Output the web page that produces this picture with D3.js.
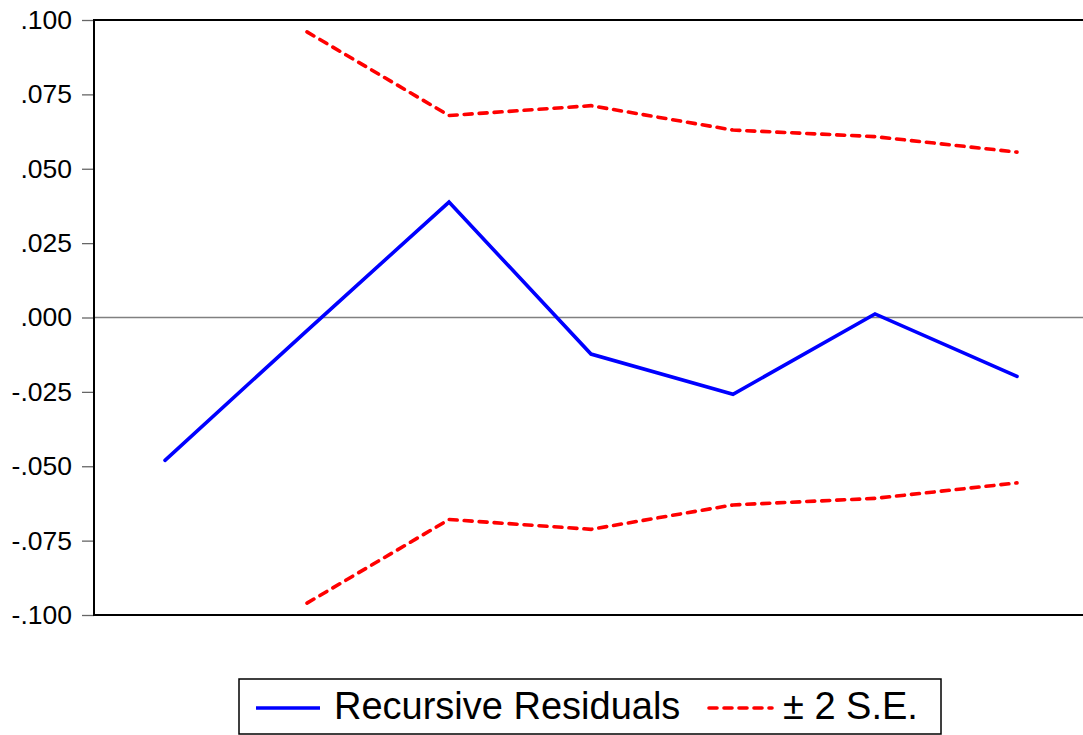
<!DOCTYPE html>
<html>
<head>
<meta charset="utf-8">
<script src="https://cdn.jsdelivr.net/npm/d3@7"></script>
<style>
  html, body { margin: 0; padding: 0; background: #fff; }
  svg { display: block; font-family: "Liberation Sans", Arial, sans-serif; }
</style>
</head>
<body>
<svg id="chart" width="1083" height="735"></svg>
<script>
// Observations (recursive estimation steps)
const observations = ["1", "2", "3", "4", "5", "6", "7"];
// Recursive residuals for each observation
const residuals = [-0.0480, -0.0044, 0.0388, -0.0123, -0.0258, 0.0012, -0.0198];
// Two standard-error band (symmetric around zero); first step has no band
const twoSE = [null, 0.0960, 0.0679, 0.0712, 0.0630, 0.0608, 0.0556];
// Y-axis tick values and labels
const yTicks = [0.100, 0.075, 0.050, 0.025, 0.000, -0.025, -0.050, -0.075, -0.100];
const yTickLabels = [".100", ".075", ".050", ".025", ".000", "-.025", "-.050", "-.075", "-.100"];
// Legend entries
const legendLabels = ["Recursive Residuals", "\u00B1 2 S.E."];

const svg = d3.select("#chart");
const margin = { left: 94, top: 20 };
const plotW = 994, plotH = 595;

const x = d3.scalePoint().domain(observations).range([0, plotW]).padding(0.5);
const y = d3.scaleLinear().domain([-0.1, 0.1]).range([plotH, 0]);

const g = svg.append("g").attr("transform", `translate(${margin.left},${margin.top})`);

// zero reference line
g.append("line")
  .attr("x1", 0).attr("x2", plotW)
  .attr("y1", y(0)).attr("y2", y(0))
  .attr("stroke", "#808080").attr("stroke-width", 1.3);

// y axis with outward ticks
const yAxis = d3.axisLeft(y)
  .tickValues(yTicks)
  .tickFormat((d, i) => yTickLabels[i])
  .tickSize(12)
  .tickPadding(10);
const ya = g.append("g").call(yAxis);
ya.select(".domain").remove();
ya.selectAll(".tick line").attr("stroke", "#666").attr("stroke-width", 1.3);
ya.selectAll(".tick text")
  .attr("font-size", 26.5)
  .attr("fill", "#000")
  .attr("font-family", "Liberation Sans, Arial, sans-serif");

// plot frame (left, top, bottom)
const frame = d3.path();
frame.moveTo(plotW, 0); frame.lineTo(0, 0); frame.lineTo(0, plotH); frame.lineTo(plotW, plotH);
g.append("path")
  .attr("d", frame.toString())
  .attr("fill", "none").attr("stroke", "#000").attr("stroke-width", 2);

// ±2 S.E. band lines
const seData = observations.map((o, i) => ({ o, v: twoSE[i] }));
const upper = d3.line().defined(d => d.v !== null).x(d => x(d.o)).y(d => y(d.v));
const lower = d3.line().defined(d => d.v !== null).x(d => x(d.o)).y(d => y(-d.v));
[upper, lower].forEach(gen => {
  g.append("path")
    .datum(seData)
    .attr("d", gen)
    .attr("fill", "none")
    .attr("stroke", "#ff0000")
    .attr("stroke-width", 3.6)
    .attr("stroke-linecap", "round")
    .attr("stroke-dasharray", "8,7");
});

// recursive residuals
const resData = observations.map((o, i) => ({ o, v: residuals[i] }));
g.append("path")
  .datum(resData)
  .attr("d", d3.line().x(d => x(d.o)).y(d => y(d.v)))
  .attr("fill", "none")
  .attr("stroke", "#0000ff")
  .attr("stroke-width", 3.6)
  .attr("stroke-linecap", "round")
  .attr("stroke-linejoin", "miter");

// legend
const lg = svg.append("g").attr("transform", "translate(239,679)");
lg.append("rect")
  .attr("x", 0).attr("y", 0).attr("width", 702).attr("height", 55)
  .attr("fill", "#fff").attr("stroke", "#000").attr("stroke-width", 1.5);
lg.append("line")
  .attr("x1", 17).attr("x2", 81).attr("y1", 29).attr("y2", 29)
  .attr("stroke", "#0000ff").attr("stroke-width", 3.6);
lg.append("text")
  .attr("x", 95).attr("y", 40)
  .attr("font-size", 38)
  .text(legendLabels[0]);
lg.append("line")
  .attr("x1", 470).attr("x2", 533).attr("y1", 29).attr("y2", 29)
  .attr("stroke", "#ff0000").attr("stroke-width", 3.6)
  .attr("stroke-linecap", "round")
  .attr("stroke-dasharray", "8,7");
lg.append("text")
  .attr("x", 544).attr("y", 40)
  .attr("font-size", 38)
  .text(legendLabels[1]);
</script>
</body>
</html>
